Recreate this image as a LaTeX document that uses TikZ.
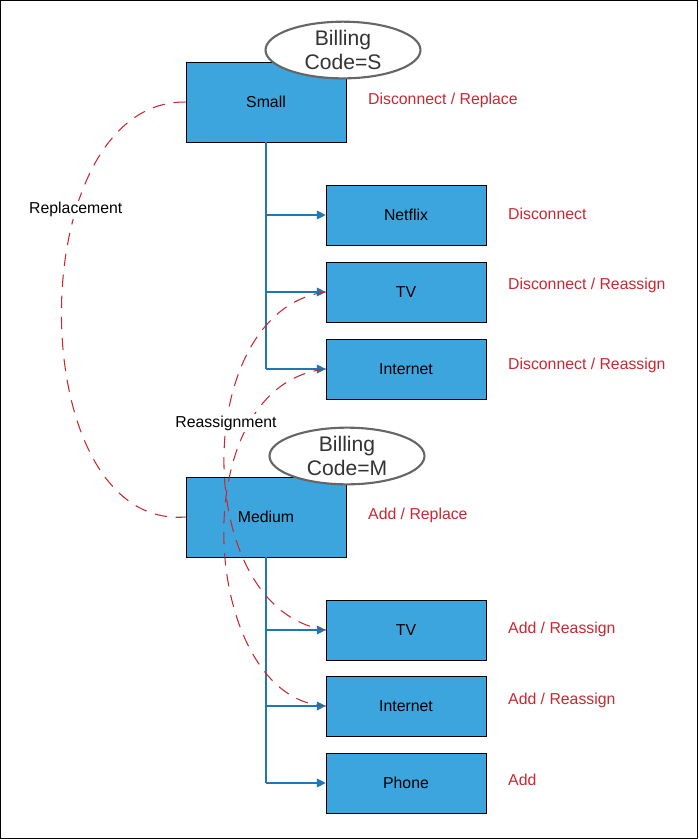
\documentclass[tikz,border=0pt]{standalone}
\usepackage{fontspec}
\setmainfont{Liberation Sans}
\usetikzlibrary{shapes.geometric, arrows.meta, positioning}
\definecolor{boxblue}{RGB}{61,165,222}
\definecolor{linkblue}{RGB}{31,119,180}
\definecolor{notered}{RGB}{200,40,50}

\begin{document}
\begin{tikzpicture}[
    x=0.02cm, y=-0.02cm,
    plan/.style={draw, fill=boxblue, minimum width=3.2cm, minimum height=1.6cm, font=\small},
    svc/.style={draw, fill=boxblue, minimum width=3.2cm, minimum height=1.2cm, font=\small},
    code/.style={draw=gray!80!black, line width=1.2pt, ellipse, fill=white, minimum width=3.1cm, minimum height=1.05cm, align=center, inner sep=0pt, font=\large, text=black!80},
    note/.style={anchor=west, text=notered, font=\small},
    link/.style={-{Triangle[length=5pt,width=5pt]}, linkblue, semithick},
    move/.style={notered, semithick, dash pattern=on 7pt off 5pt}
]
    \draw[line width=0.6pt] (0.5,0.5) rectangle (697.5,838.5);

    \node[plan] (small) at (266,102) {Small};
    \node[code] (codeS) at (343,50) {Billing\\Code=S};
    \node[svc] (netflix) at (406,215) {Netflix};
    \node[svc] (tvS) at (406,292) {TV};
    \node[svc] (netS) at (406,369) {Internet};

    \node[plan] (medium) at (266,517) {Medium};
    \node[code] (codeM) at (347,456) {Billing\\Code=M};
    \node[svc] (tvM) at (406,630) {TV};
    \node[svc] (netM) at (406,706) {Internet};
    \node[svc] (phone) at (406,783) {Phone};

    % labels
    \node[note] (nSmall) at (362,100) {Disconnect / Replace};
    \node[note] at (502,214) {Disconnect};
    \node[note] at (502,285) {Disconnect / Reassign};
    \node[note] at (502,365) {Disconnect / Reassign};
    \node[note] at (362,515) {Add / Replace};
    \node[note] at (502,629) {Add / Reassign};
    \node[note] at (502,700) {Add / Reassign};
    \node[note] at (502,780) {Add};

    % tree links
    \draw[linkblue, semithick] (small.south) -- (266,369);
    \draw[link] (266,215) -- (netflix.west);
    \draw[link] (266,292) -- (tvS.west);
    \draw[link] (266,369) -- (netS.west);
    \draw[linkblue, semithick] (medium.south) -- (266,783);
    \draw[link] (266,630) -- (tvM.west);
    \draw[link] (266,706) -- (netM.west);
    \draw[link] (266,783) -- (phone.west);

    % moves
    \draw[move] (small.west) .. controls (20,100) and (20,530) .. (medium.west)
        node[pos=0.33, fill=white, text=black, font=\small, inner sep=1pt] {Replacement};
    \draw[move] (tvS.west) .. controls (190,310) and (190,610) .. (tvM.west);
    \draw[move] (netS.west) .. controls (180,385) and (200,700) .. (netM.west);
    \node[font=\small, fill=white, inner sep=1pt] at (226,423) {Reassignment};
\end{tikzpicture}
\end{document}
